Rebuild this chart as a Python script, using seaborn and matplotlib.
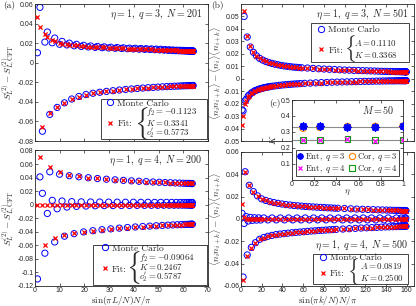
import matplotlib
matplotlib.use("Agg")
import matplotlib.pyplot as plt
from matplotlib.lines import Line2D
from matplotlib.patches import Rectangle
from matplotlib.ticker import FuncFormatter
import seaborn as sns

# ---------------- data ----------------
# (a) top: eta=1, q=3, N=201  -- x = sin(pi L/N) N/pi
A1_UP_X = [1.00, 2.00, 4.00, 5.00, 6.99, 7.98, 9.96, 10.95, 12.91, 13.89,
           15.83, 16.80, 18.72, 19.67, 21.57, 22.51, 24.37, 25.29, 27.12, 28.02,
           29.80, 30.68, 32.42, 33.28, 34.97, 35.80, 37.44, 38.25, 39.83, 40.61,
           42.14, 42.89, 44.35, 45.07, 46.46, 47.14, 48.47, 49.11, 50.38, 50.99,
           52.18, 52.75, 53.85, 54.38, 55.41, 55.90, 56.85, 57.30, 58.17, 58.58,
           59.36, 59.73, 60.40, 60.72, 61.32, 61.60, 62.11, 62.34, 62.75, 62.94,
           63.28, 63.42, 63.64, 63.74, 63.88, 63.93, 63.98]
A1_UP_MC = [0.0102, 0.0566, 0.0211, 0.0314, 0.0204, 0.0252, 0.0188, 0.0218, 0.0182, 0.0200,
            0.0173, 0.0188, 0.0166, 0.0178, 0.0161, 0.0171, 0.0157, 0.0166, 0.0154, 0.0162,
            0.0151, 0.0158, 0.0148, 0.0155, 0.0146, 0.0152, 0.0143, 0.0149, 0.0141, 0.0147,
            0.0139, 0.0145, 0.0137, 0.0143, 0.0135, 0.0141, 0.0133, 0.0139, 0.0131, 0.0137,
            0.0129, 0.0134, 0.0127, 0.0132, 0.0125, 0.0130, 0.0123, 0.0128, 0.0122, 0.0127,
            0.0121, 0.0126, 0.0120, 0.0125, 0.0119, 0.0124, 0.0118, 0.0123, 0.0117, 0.0122,
            0.0117, 0.0122, 0.0116, 0.0121, 0.0116, 0.0121, 0.0116]
A1_UP_FIT = [0.0464, 0.0362, 0.0290, 0.0266, 0.0228, 0.0218, 0.0202, 0.0196, 0.0189, 0.0185,
             0.0179, 0.0176, 0.0171, 0.0169, 0.0165, 0.0164, 0.0160, 0.0159, 0.0157, 0.0156,
             0.0153, 0.0152, 0.0150, 0.0149, 0.0148, 0.0147, 0.0145, 0.0144, 0.0143, 0.0142,
             0.0141, 0.0140, 0.0139, 0.0138, 0.0137, 0.0136, 0.0135, 0.0134, 0.0133, 0.0133,
             0.0131, 0.0131, 0.0129, 0.0129, 0.0127, 0.0127, 0.0125, 0.0125, 0.0124, 0.0124,
             0.0123, 0.0123, 0.0122, 0.0122, 0.0121, 0.0121, 0.0120, 0.0120, 0.0119, 0.0119,
             0.0119, 0.0119, 0.0118, 0.0118, 0.0118, 0.0118, 0.0118]
A1_LO_X = [3.00, 5.99, 8.97, 11.93, 14.86, 17.76, 20.63, 23.44, 26.21, 28.91,
           31.56, 34.13, 36.63, 39.05, 41.38, 43.62, 45.77, 47.81, 49.75, 51.58,
           53.30, 54.89, 56.37, 57.73, 58.96, 60.06, 61.04, 61.88, 62.58, 63.14,
           63.56, 63.84, 63.97]
A1_LO_MC = [-0.0700, -0.0528, -0.0457, -0.0410, -0.0371, -0.0345, -0.0325, -0.0312, -0.0302, -0.0293,
            -0.0286, -0.0279, -0.0273, -0.0268, -0.0263, -0.0259, -0.0255, -0.0252, -0.0249, -0.0246,
            -0.0244, -0.0242, -0.0240, -0.0239, -0.0237, -0.0236, -0.0235, -0.0234, -0.0234, -0.0233,
            -0.0233, -0.0233, -0.0233]
A1_LO_FIT = [-0.0655, -0.0515, -0.0450, -0.0408, -0.0372, -0.0346, -0.0327, -0.0313, -0.0302, -0.0293,
             -0.0286, -0.0279, -0.0273, -0.0268, -0.0263, -0.0259, -0.0255, -0.0252, -0.0249, -0.0246,
             -0.0244, -0.0242, -0.0240, -0.0239, -0.0237, -0.0236, -0.0235, -0.0234, -0.0234, -0.0233,
             -0.0233, -0.0233, -0.0233]

# (a) bottom: eta=1, q=4, N=200
A2_TOP_X = [2.00, 6.00, 9.96, 13.88, 17.76, 21.56, 25.28, 28.90, 32.40, 35.78,
            39.02, 42.10, 45.01, 47.75, 50.30, 52.65, 54.79, 56.72, 58.43, 59.90,
            61.13, 62.13, 62.88, 63.38, 63.63]
A2_TOP_MC = [0.0410, 0.0485, 0.0450, 0.0428, 0.0412, 0.0398, 0.0386, 0.0376, 0.0367, 0.0359,
             0.0352, 0.0346, 0.0340, 0.0335, 0.0331, 0.0327, 0.0324, 0.0321, 0.0319, 0.0317,
             0.0315, 0.0314, 0.0313, 0.0312, 0.0312]
A2_TOP_FIT = [0.0710, 0.0550, 0.0478, 0.0442, 0.0418, 0.0401, 0.0388, 0.0377, 0.0368, 0.0360,
              0.0353, 0.0347, 0.0341, 0.0336, 0.0332, 0.0328, 0.0325, 0.0322, 0.0320, 0.0318,
              0.0316, 0.0315, 0.0314, 0.0313, 0.0313]
A2_BOT_X = [4.00, 7.98, 11.93, 15.83, 19.67, 23.43, 27.11, 30.67, 34.11, 37.42,
            40.58, 43.58, 46.41, 49.05, 51.50, 53.75, 55.79, 57.60, 59.19, 60.55,
            61.66, 62.53, 63.16, 63.53, 63.66]
A2_BOT_MC = [-0.0716, -0.0550, -0.0465, -0.0428, -0.0402, -0.0384, -0.0369, -0.0357, -0.0346, -0.0337,
             -0.0329, -0.0322, -0.0316, -0.0311, -0.0306, -0.0302, -0.0299, -0.0296, -0.0294, -0.0292,
             -0.0290, -0.0289, -0.0288, -0.0288, -0.0288]
A2_BOT_FIT = [-0.0590, -0.0498, -0.0450, -0.0420, -0.0398, -0.0382, -0.0368, -0.0356, -0.0346, -0.0337,
              -0.0329, -0.0322, -0.0316, -0.0311, -0.0306, -0.0302, -0.0299, -0.0296, -0.0294, -0.0292,
              -0.0290, -0.0289, -0.0288, -0.0288, -0.0288]
A2_MID_X = [1.00, 3.00, 5.00, 6.99, 8.97, 10.94, 12.91, 14.86, 16.79, 18.72,
            20.62, 22.50, 24.36, 26.20, 28.00, 29.79, 31.54, 33.26, 34.95, 36.60,
            38.22, 39.80, 41.34, 42.84, 44.30, 45.71, 47.08, 48.41, 49.68, 50.91,
            52.08, 53.21, 54.28, 55.30, 56.26, 57.17, 58.02, 58.81, 59.55, 60.23,
            60.85, 61.41, 61.90, 62.34, 62.71, 63.02, 63.28, 63.46, 63.59, 63.65]
A2_MID_MC = [-0.1096, 0.0168, -0.0129, 0.0064, -0.0060, 0.0054, -0.0035, 0.0045, -0.0025, 0.0042,
             -0.0020, 0.0040, -0.0016, 0.0039, -0.0014, 0.0038, -0.0013, 0.0037, -0.0012, 0.0036,
             -0.0011, 0.0036, -0.0010, 0.0035, -0.0010, 0.0035, -0.0009, 0.0034, -0.0009, 0.0034,
             -0.0008, 0.0034, -0.0008, 0.0033, -0.0008, 0.0033, -0.0007, 0.0033, -0.0007, 0.0033,
             -0.0007, 0.0032, -0.0007, 0.0032, -0.0007, 0.0032, -0.0007, 0.0032, -0.0007, 0.0032]
A2_MID_FIT = [0.0, 0.0, 0.0, 0.0, 0.0, 0.0, 0.0, 0.0, 0.0, 0.0,
              0.0, 0.0, 0.0, 0.0, 0.0, 0.0, 0.0, 0.0, 0.0, 0.0,
              0.0, 0.0, 0.0, 0.0, 0.0, 0.0, 0.0, 0.0, 0.0, 0.0,
              0.0, 0.0, 0.0, 0.0, 0.0, 0.0, 0.0, 0.0, 0.0, 0.0,
              0.0, 0.0, 0.0, 0.0, 0.0, 0.0, 0.0, 0.0, 0.0, 0.0]

# (b) top: eta=1, q=3, N=501  -- x = sin(pi k/N) N/pi
B1_UP_X = [3.00, 6.00, 8.99, 11.99, 14.97, 17.95, 20.94, 23.91, 26.87, 29.82,
           32.76, 35.69, 38.61, 41.51, 44.40, 47.27, 50.13, 52.97, 55.79, 58.59,
           64.13, 69.58, 74.93, 80.18, 85.31, 90.31, 95.18, 99.91, 104.52, 108.97,
           113.27, 117.41, 121.39, 125.21, 128.84, 132.30, 135.56, 138.64, 141.52, 144.20,
           146.67, 148.93, 150.97, 152.80, 154.39, 155.77, 156.91, 157.84, 158.58, 159.12,
           159.41, 159.46]
B1_UP_MC = [0.0500, 0.0335, 0.0255, 0.0212, 0.0184, 0.0164, 0.0150, 0.0139, 0.0130, 0.0123,
            0.0117, 0.0112, 0.0107, 0.0103, 0.0100, 0.0097, 0.0094, 0.0092, 0.0090, 0.0088,
            0.0086, 0.0083, 0.0080, 0.0078, 0.0076, 0.0074, 0.0072, 0.0070, 0.0069, 0.0067,
            0.0066, 0.0065, 0.0064, 0.0063, 0.0062, 0.0061, 0.0060, 0.0059, 0.0059, 0.0058,
            0.0058, 0.0057, 0.0057, 0.0057, 0.0056, 0.0056, 0.0056, 0.0056, 0.0056, 0.0055,
            0.0055, 0.0055]
B1_UP_FIT = [0.0546, 0.0340, 0.0260, 0.0214, 0.0185, 0.0165, 0.0150, 0.0139, 0.0130, 0.0123,
             0.0117, 0.0112, 0.0107, 0.0103, 0.0100, 0.0097, 0.0094, 0.0092, 0.0090, 0.0088,
             0.0086, 0.0083, 0.0080, 0.0078, 0.0076, 0.0074, 0.0072, 0.0070, 0.0069, 0.0067,
             0.0066, 0.0065, 0.0064, 0.0063, 0.0062, 0.0061, 0.0060, 0.0059, 0.0059, 0.0058,
             0.0058, 0.0057, 0.0057, 0.0057, 0.0056, 0.0056, 0.0056, 0.0056, 0.0056, 0.0055,
             0.0055, 0.0055]
B1_LO_X = [1.00, 2.00, 4.00, 5.00, 7.00, 8.00, 10.00, 11.00, 12.99, 13.99,
           15.98, 16.98, 18.96, 19.96, 21.93, 22.92, 24.90, 25.88, 27.85, 28.84,
           31.30, 34.22, 37.15, 40.06, 42.96, 45.84, 48.70, 51.55, 54.38, 57.19,
           61.37, 66.87, 72.27, 77.57, 82.76, 87.82, 92.76, 97.56, 102.23, 106.76,
           111.13, 115.35, 119.41, 123.31, 127.04, 130.58, 133.94, 137.11, 140.09, 142.87,
           145.45, 147.81, 149.96, 151.90, 153.61, 155.10, 156.36, 157.40, 158.21, 158.80,
           159.20, 159.45]
B1_LO_MC = [-0.0250, -0.0258, -0.0178, -0.0165, -0.0138, -0.0130, -0.0115, -0.0109, -0.0099, -0.0095,
            -0.0088, -0.0085, -0.0080, -0.0077, -0.0073, -0.0071, -0.0068, -0.0066, -0.0064, -0.0062,
            -0.0059, -0.0056, -0.0053, -0.0050, -0.0048, -0.0046, -0.0044, -0.0042, -0.0041, -0.0039,
            -0.0037, -0.0035, -0.0033, -0.0031, -0.0030, -0.0028, -0.0027, -0.0026, -0.0025, -0.0024,
            -0.0023, -0.0022, -0.0021, -0.0021, -0.0020, -0.0019, -0.0019, -0.0018, -0.0018, -0.0017,
            -0.0017, -0.0017, -0.0016, -0.0016, -0.0016, -0.0016, -0.0016, -0.0015, -0.0015, -0.0015,
            -0.0015, -0.0015]
B1_LO_FIT = [-0.0370, -0.0296, -0.0200, -0.0180, -0.0145, -0.0135, -0.0118, -0.0111, -0.0100, -0.0096,
             -0.0088, -0.0085, -0.0080, -0.0077, -0.0073, -0.0071, -0.0068, -0.0066, -0.0064, -0.0062,
             -0.0059, -0.0056, -0.0053, -0.0050, -0.0048, -0.0046, -0.0044, -0.0042, -0.0041, -0.0039,
             -0.0037, -0.0035, -0.0033, -0.0031, -0.0030, -0.0028, -0.0027, -0.0026, -0.0025, -0.0024,
             -0.0023, -0.0022, -0.0021, -0.0021, -0.0020, -0.0019, -0.0019, -0.0018, -0.0018, -0.0017,
             -0.0017, -0.0017, -0.0016, -0.0016, -0.0016, -0.0016, -0.0016, -0.0015, -0.0015, -0.0015,
             -0.0015, -0.0015]

# (b) bottom: eta=1, q=4, N=500
B2_TOP_X = [4.00, 8.00, 11.99, 15.97, 19.95, 23.91, 27.85, 31.79, 35.69, 39.58,
            43.44, 47.28, 51.08, 54.86, 58.59, 62.29, 65.94, 69.57, 73.14, 76.68,
            80.18, 83.59, 86.97, 90.29, 93.55, 99.90, 106.00, 111.75, 117.34, 122.63,
            127.60, 132.24, 136.55, 140.46, 144.00, 147.19, 150.02, 152.47, 154.59, 156.33,
            157.62, 158.52, 159.04, 159.14]
B2_TOP_MC = [0.0423, 0.0302, 0.0245, 0.0207, 0.0180, 0.0166, 0.0155, 0.0147, 0.0140, 0.0134,
             0.0129, 0.0125, 0.0121, 0.0118, 0.0115, 0.0112, 0.0110, 0.0108, 0.0106, 0.0104,
             0.0102, 0.0100, 0.0099, 0.0097, 0.0096, 0.0094, 0.0091, 0.0089, 0.0087, 0.0085,
             0.0084, 0.0082, 0.0081, 0.0080, 0.0079, 0.0078, 0.0077, 0.0077, 0.0076, 0.0076,
             0.0076, 0.0075, 0.0075, 0.0075]
B2_TOP_FIT = [0.0420, 0.0300, 0.0244, 0.0207, 0.0180, 0.0166, 0.0155, 0.0147, 0.0140, 0.0134,
              0.0129, 0.0125, 0.0121, 0.0118, 0.0115, 0.0112, 0.0110, 0.0108, 0.0106, 0.0104,
              0.0102, 0.0100, 0.0099, 0.0097, 0.0096, 0.0094, 0.0091, 0.0089, 0.0087, 0.0085,
              0.0084, 0.0082, 0.0081, 0.0080, 0.0079, 0.0078, 0.0077, 0.0077, 0.0076, 0.0076,
              0.0076, 0.0075, 0.0075, 0.0075]
B2_BOT_X = [2.00, 6.00, 9.99, 13.98, 17.96, 21.93, 25.88, 29.82, 33.74, 37.64,
            41.51, 45.36, 49.18, 52.97, 56.72, 60.44, 64.12, 67.76, 71.36, 74.91,
            78.42, 81.87, 85.28, 88.63, 91.92, 98.33, 104.50, 110.39, 116.02, 121.33,
            126.33, 130.99, 135.31, 139.46, 143.10, 146.51, 149.40, 151.97, 154.15, 155.93,
            157.34, 158.34, 158.95, 159.15]
B2_BOT_MC = [-0.0520, -0.0322, -0.0254, -0.0212, -0.0182, -0.0166, -0.0155, -0.0147, -0.0140, -0.0135,
             -0.0131, -0.0127, -0.0123, -0.0120, -0.0117, -0.0114, -0.0111, -0.0108, -0.0106, -0.0103,
             -0.0101, -0.0099, -0.0097, -0.0095, -0.0093, -0.0090, -0.0087, -0.0084, -0.0081, -0.0079,
             -0.0077, -0.0075, -0.0073, -0.0071, -0.0070, -0.0069, -0.0068, -0.0067, -0.0066, -0.0066,
             -0.0065, -0.0065, -0.0065, -0.0065]
B2_BOT_FIT = [-0.0550, -0.0330, -0.0258, -0.0214, -0.0182, -0.0166, -0.0155, -0.0147, -0.0140, -0.0135,
              -0.0131, -0.0127, -0.0123, -0.0120, -0.0117, -0.0114, -0.0111, -0.0108, -0.0106, -0.0103,
              -0.0101, -0.0099, -0.0097, -0.0095, -0.0093, -0.0090, -0.0087, -0.0084, -0.0081, -0.0079,
              -0.0077, -0.0075, -0.0073, -0.0071, -0.0070, -0.0069, -0.0068, -0.0067, -0.0066, -0.0066,
              -0.0065, -0.0065, -0.0065, -0.0065]
B2_MID_X = [1.0, 3.0, 5.0, 7.0, 9.0, 11.0, 13.0, 15.0, 17.0, 19.0,
            22.0, 26.0, 30.0, 34.0, 38.0, 42.0, 46.0, 50.0, 54.0, 58.0,
            62.0, 66.0, 70.0, 74.0, 78.0, 82.0, 86.0, 90.0, 94.0, 98.0,
            102.0, 106.0, 110.0, 114.0, 118.0, 122.0, 126.0, 130.0, 134.0, 138.0,
            142.0, 146.0, 150.0, 153.0, 155.0, 157.0, 158.0, 158.7, 159.1]
B2_MID_MC = [0.0050, -0.0040, 0.0022, -0.0018, 0.0014, -0.0012, 0.0011, -0.0010, 0.0010, -0.0009,
             0.0009, -0.0008, 0.0009, -0.0008, 0.0009, -0.0008, 0.0009, -0.0008, 0.0009, -0.0008,
             0.0009, -0.0008, 0.0009, -0.0008, 0.0009, -0.0008, 0.0009, -0.0008, 0.0009, -0.0008,
             0.0009, -0.0008, 0.0009, -0.0008, 0.0009, -0.0008, 0.0009, -0.0008, 0.0009, -0.0008,
             0.0009, -0.0008, 0.0009, -0.0008, 0.0009, -0.0008, 0.0009, -0.0008, 0.0009]
B2_MID_FIT = [0.0130, 0.0020, 0.0004, -0.0002, 0.0, 0.0, 0.0, 0.0, 0.0, 0.0,
              0.0, 0.0, 0.0, 0.0, 0.0, 0.0, 0.0, 0.0, 0.0, 0.0,
              0.0, 0.0, 0.0, 0.0, 0.0, 0.0, 0.0, 0.0, 0.0, 0.0,
              0.0, 0.0, 0.0, 0.0, 0.0, 0.0, 0.0, 0.0, 0.0, 0.0,
              0.0, 0.0, 0.0, 0.0, 0.0, 0.0, 0.0, 0.0, 0.0]

# (c) inset: fitted K vs eta, M = 50
ETA = [0.1, 0.25, 0.5, 0.75, 1.0]
K_ENT_Q3 = [0.338, 0.336, 0.333, 0.333, 0.337]
K_COR_Q3 = [0.324, 0.330, 0.334, 0.335, 0.336]
K_ENT_Q4 = [0.249, 0.249, 0.254, 0.243, 0.250]
K_COR_Q4 = [0.250, 0.250, 0.256, 0.250, 0.250]
K_REF = [1 / 3, 1 / 4]

# ---------------- style ----------------
sns.set_theme(style="ticks")
plt.rcParams["font.family"] = ["Liberation Sans", "DejaVu Sans"]
plt.rcParams["mathtext.fontset"] = "cm"
plt.rcParams["axes.unicode_minus"] = False

DARK = "#262626"
BLUE = "#0000ff"
RED = "#ff0000"
LBL = 6.8
TXT = 6.8
PAR = 6.4
CMR = {"family": "cmr10", "size": TXT}


def fmt(v, pos):
    return "%g" % round(v, 6)


def style_axes(ax, xlim, ylim, xticks, yticks, xlabels=True):
    ax.set_xlim(xlim)
    ax.set_ylim(ylim)
    ax.set_xticks(xticks)
    ax.set_yticks(yticks)
    ax.xaxis.set_major_formatter(FuncFormatter(fmt))
    ax.yaxis.set_major_formatter(FuncFormatter(fmt))
    ax.tick_params(direction="in", top=True, right=True, length=2.5, width=0.5,
                   labelsize=5, pad=1.2, colors=DARK, labelbottom=xlabels)
    ax.tick_params(axis="x", pad=0.8)
    for sp in ax.spines.values():
        sp.set_linewidth(0.6)
        sp.set_color(DARK)


def set_labels(ax, ylabel, yx, xlabel=None, xy=None):
    ax.set_ylabel(ylabel, fontsize=LBL, va="center")
    ax.yaxis.set_label_coords(yx, 0.5)
    if xlabel is not None:
        ax.set_xlabel(xlabel, fontsize=6.6, va="center")
        ax.xaxis.set_label_coords(0.5, xy)


def draw_branches(ax, branches):
    for x, mc, fit in branches:
        sns.scatterplot(x=x, y=mc, ax=ax, marker="o", s=20, color=BLUE,
                        facecolors="none", edgecolor=BLUE, linewidth=0.7, zorder=2)
    for x, mc, fit in branches:
        sns.scatterplot(x=x, y=fit, ax=ax, marker="x", s=9, color=RED,
                        linewidth=0.9, zorder=3)


def fit_legend(ax, box, anchor, spacing, brace, brace_size, params, px, pys):
    ax.add_patch(Rectangle((box[0], box[1]), box[2] - box[0], box[3] - box[1],
                           transform=ax.transAxes, facecolor="white",
                           edgecolor=DARK, linewidth=0.6, zorder=5))
    handles = [Line2D([], [], ls="none", marker="o", ms=4.5, mfc="none", mec=BLUE, mew=0.7),
               Line2D([], [], ls="none", marker="x", ms=3.2, color=RED, mew=0.9)]
    leg = ax.legend(handles, ["Monte Carlo", "Fit:"],
                    loc="center left", bbox_to_anchor=anchor, frameon=False,
                    prop=CMR, handlelength=0.8, handletextpad=0.35,
                    borderpad=0, borderaxespad=0, labelspacing=spacing)
    leg.set_zorder(6)
    ax.text(brace[0], brace[1], r"$\{$", transform=ax.transAxes, fontsize=brace_size,
            ha="center", va="center", zorder=7)
    for t, y in zip(params, pys):
        ax.text(px, y, t, transform=ax.transAxes, fontsize=PAR, ha="left",
                va="center", zorder=7)


fig = plt.figure(figsize=(4.16, 3.06), dpi=100)
ax_a1 = fig.add_axes([0.0841, 0.5392, 0.4159, 0.4477])
ax_a2 = fig.add_axes([0.0841, 0.0654, 0.4159, 0.4428])
ax_b1 = fig.add_axes([0.5793, 0.5392, 0.4159, 0.4477])
ax_b2 = fig.add_axes([0.5793, 0.0654, 0.4159, 0.4379])
ax_c = fig.add_axes([0.7019, 0.4118, 0.2668, 0.2614])

ylab_a = r"$S^{(2)}_L - S^{(2)}_{L,\mathrm{CFT}}$"
ylab_b = r"$\langle n_i n_{i+k}\rangle - \langle n_i\rangle\langle n_{i+k}\rangle$"
YLX = -0.147

# (a) top
draw_branches(ax_a1, [(A1_UP_X, A1_UP_MC, A1_UP_FIT), (A1_LO_X, A1_LO_MC, A1_LO_FIT)])
style_axes(ax_a1, (0, 70), (-0.08, 0.06), [0, 10, 20, 30, 40, 50, 60, 70],
           [-0.08, -0.06, -0.04, -0.02, 0, 0.02, 0.04, 0.06], xlabels=False)
set_labels(ax_a1, ylab_a, YLX)
ax_a1.text(0.965, 0.92, r"$\eta=1,\ q=3,\ N=201$", transform=ax_a1.transAxes,
           fontsize=TXT + 0.4, ha="right", va="center")
fit_legend(ax_a1, (0.382, 0.018, 0.994, 0.310), (0.413, 0.199), 1.3,
           (0.613, 0.131), 19,
           [r"$f_2=-0.1123$", r"$K=0.3341$", r"$c_2'=0.5773$"], 0.642, [0.210, 0.131, 0.053])

# (a) bottom
draw_branches(ax_a2, [(A2_TOP_X, A2_TOP_MC, A2_TOP_FIT), (A2_MID_X, A2_MID_MC, A2_MID_FIT),
                      (A2_BOT_X, A2_BOT_MC, A2_BOT_FIT)])
style_axes(ax_a2, (0, 70), (-0.12, 0.08), [0, 10, 20, 30, 40, 50, 60, 70],
           [-0.12, -0.1, -0.08, -0.06, -0.04, -0.02, 0, 0.02, 0.04, 0.06, 0.08])
set_labels(ax_a2, ylab_a, YLX, r"$\sin(\pi L/N)N/\pi$", -0.104)
ax_a2.text(0.965, 0.922, r"$\eta=1,\ q=4,\ N=200$", transform=ax_a2.transAxes,
           fontsize=TXT + 0.4, ha="right", va="center")
fit_legend(ax_a2, (0.335, 0.007, 0.994, 0.305), (0.383, 0.2007), 1.3,
           (0.566, 0.1365), 19,
           [r"$f_2=-0.09064$", r"$K=0.2467$", r"$c_2'=0.5787$"], 0.601, [0.2064, 0.138, 0.0666])

# (b) top
draw_branches(ax_b1, [(B1_UP_X, B1_UP_MC, B1_UP_FIT), (B1_LO_X, B1_LO_MC, B1_LO_FIT)])
style_axes(ax_b1, (0, 167), (-0.05, 0.06), [0, 20, 40, 60, 80, 100, 120, 140, 160],
           [-0.05, -0.04, -0.03, -0.02, -0.01, 0, 0.01, 0.02, 0.03, 0.04, 0.05], xlabels=False)
set_labels(ax_b1, ylab_b, YLX)
ax_b1.text(0.965, 0.92, r"$\eta=1,\ q=3,\ N=501$", transform=ax_b1.transAxes,
           fontsize=TXT + 0.4, ha="right", va="center")
fit_legend(ax_b1, (0.405, 0.579, 0.971, 0.859), (0.442, 0.737), 1.3,
           (0.630, 0.672), 15,
           [r"$A=0.1110$", r"$K=0.3368$"], 0.653, [0.715, 0.626])

# (b) bottom
draw_branches(ax_b2, [(B2_TOP_X, B2_TOP_MC, B2_TOP_FIT), (B2_MID_X, B2_MID_MC, B2_MID_FIT),
                      (B2_BOT_X, B2_BOT_MC, B2_BOT_FIT)])
style_axes(ax_b2, (0, 167), (-0.06, 0.06), [0, 20, 40, 60, 80, 100, 120, 140, 160],
           [-0.06, -0.04, -0.02, 0, 0.02, 0.04, 0.06])
set_labels(ax_b2, ylab_b, YLX, r"$\sin(\pi k/N)N/\pi$", -0.105)
ax_b2.text(0.965, 0.299, r"$\eta=1,\ q=4,\ N=500$", transform=ax_b2.transAxes,
           fontsize=TXT + 0.4, ha="right", va="center")
fit_legend(ax_b2, (0.418, 0.0127, 0.964, 0.2366), (0.452, 0.149), 0.8,
           (0.646, 0.107), 15,
           [r"$A=0.0819$", r"$K=0.2500$"], 0.688, [0.146, 0.067])

# (c) inset
ax_c.set_facecolor("white")
ax_c.set_zorder(10)
for k in K_REF:
    ax_c.axhline(k, color="#8c8c8c", linewidth=0.8, zorder=1)
sns.scatterplot(x=ETA, y=K_COR_Q3, ax=ax_c, marker="o", s=22, color="#ff8000",
                facecolors="none", edgecolor="#ff8000", linewidth=0.8, zorder=2)
sns.scatterplot(x=ETA, y=K_ENT_Q3, ax=ax_c, marker=(8, 2, 0), s=22, color=BLUE,
                linewidth=1.3, zorder=3)
sns.scatterplot(x=ETA, y=K_COR_Q4, ax=ax_c, marker="s", s=16, color="#119911",
                facecolors="none", edgecolor="#119911", linewidth=0.8, zorder=2)
sns.scatterplot(x=ETA, y=K_ENT_Q4, ax=ax_c, marker="x", s=12, color="#ff00ff",
                linewidth=0.9, zorder=3)
style_axes(ax_c, (0, 1), (0, 0.5), [0, 0.2, 0.4, 0.6, 0.8, 1], [0.1, 0.2, 0.3, 0.4, 0.5])
set_labels(ax_c, r"$K$", -0.17, r"$\eta$", -0.16)
ax_c.text(0.92, 0.875, r"$M=50$", transform=ax_c.transAxes, fontsize=TXT + 0.4,
          ha="right", va="center")
c_handles = [Line2D([], [], ls="none", marker=(8, 2, 0), ms=4.5, color=BLUE, mew=1.3),
             Line2D([], [], ls="none", marker="x", ms=3.5, color="#ff00ff", mew=0.9),
             Line2D([], [], ls="none", marker="o", ms=4.5, mfc="none", mec="#ff8000", mew=0.8),
             Line2D([], [], ls="none", marker="s", ms=4, mfc="none", mec="#119911", mew=0.8)]
c_labels = [r"$\mathrm{Ent},\ q=3$", r"$\mathrm{Ent},\ q=4$",
            r"$\mathrm{Cor},\ q=3$", r"$\mathrm{Cor},\ q=4$"]
leg_c = ax_c.legend(c_handles, c_labels, loc="lower center", bbox_to_anchor=(0.5, -0.01),
                    ncol=2, fontsize=6.3, handlelength=0.7, handletextpad=0.2,
                    columnspacing=0.4, borderpad=0.15, labelspacing=0.0,
                    fancybox=False, framealpha=1, edgecolor=DARK)
leg_c.get_frame().set_linewidth(0.6)

fig.text(3 / 416, 1 - 6 / 306, "(a)", fontdict=CMR, va="center", ha="left")
fig.text(211 / 416, 1 - 6 / 306, "(b)", fontdict=CMR, va="center", ha="left")
fig.text(269 / 416, 1 - 103 / 306, "(c)", fontdict=CMR, va="center", ha="left")

fig.savefig("out.png", dpi=100)
